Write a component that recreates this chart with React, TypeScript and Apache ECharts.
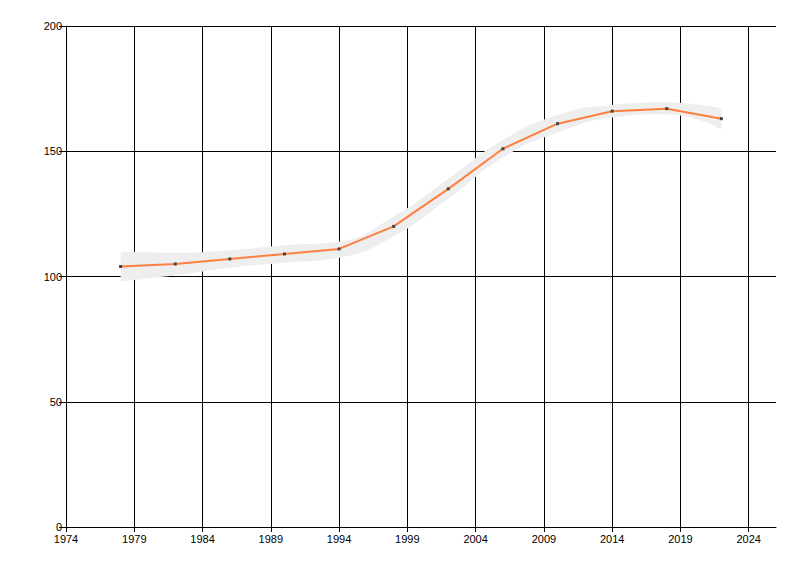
import { useEffect, useRef } from 'react';
import * as echarts from 'echarts';

// years of the observations
const years = [1978, 1982, 1986, 1990, 1994, 1998, 2002, 2006, 2010, 2014, 2018, 2022];
// observed values
const values = [104, 105, 107, 109, 111, 120, 135, 151, 161, 166, 167, 163];
// confidence band around the line
const bandUpper = [110, 109.5, 110.5, 112.5, 114, 124, 139, 154.5, 164.5, 168.5, 169.5, 167.2];
const bandLower = [98, 100.5, 103.5, 105.5, 107.5, 116, 131, 147.5, 157.5, 163.5, 164.8, 158.8];

// axis ticks
const xTicks = [1974, 1979, 1984, 1989, 1994, 1999, 2004, 2009, 2014, 2019, 2024];
const yTicks = [0, 50, 100, 150, 200];

const FONT = 'Liberation Sans, DejaVu Sans, sans-serif';

export default function App() {
  const chartRef = useRef<HTMLDivElement>(null);

  useEffect(() => {
    if (!chartRef.current) return;
    document.body.style.margin = '0';
    const chart = echarts.init(chartRef.current, null, { renderer: 'svg' });

    // band series keep the value first so that the stack runs along y
    const option = {
      animation: false,
      backgroundColor: '#ffffff',
      grid: { left: 66, right: 24, top: 26, bottom: 49 },
      xAxis: {
        type: 'value',
        min: 1974,
        max: 2026,
        axisLine: { show: true, lineStyle: { color: '#000', width: 1 } },
        axisTick: { show: true, length: 5, customValues: xTicks, lineStyle: { color: '#000' } },
        axisLabel: {
          customValues: xTicks,
          margin: 6,
          color: '#000',
          fontSize: 11,
          fontFamily: FONT,
          formatter: (v: number) => String(v)
        },
        splitLine: { show: true, lineStyle: { color: '#000', width: 1 } }
      },
      yAxis: {
        type: 'value',
        min: yTicks[0],
        max: yTicks[yTicks.length - 1],
        interval: yTicks[1] - yTicks[0],
        axisLine: { show: true, lineStyle: { color: '#000', width: 1 } },
        axisTick: { show: true, length: 7, lineStyle: { color: '#000' } },
        axisLabel: { margin: 4, color: '#000', fontSize: 11, fontFamily: FONT },
        splitLine: { show: true, lineStyle: { color: '#000', width: 1 } }
      },
      series: [
        {
          name: 'lower',
          type: 'line',
          stack: 'band',
          smooth: true,
          symbol: 'none',
          encode: { x: 1, y: 0 },
          lineStyle: { opacity: 0 },
          data: years.map((y, i) => [bandLower[i], y])
        },
        {
          name: 'band',
          type: 'line',
          stack: 'band',
          smooth: true,
          symbol: 'none',
          encode: { x: 1, y: 0 },
          lineStyle: { opacity: 0 },
          areaStyle: { color: '#eeeeee', opacity: 1 },
          data: years.map((y, i) => [bandUpper[i] - bandLower[i], y])
        },
        {
          name: 'value',
          type: 'line',
          symbol: 'rect',
          symbolSize: 3,
          itemStyle: { color: '#444444' },
          lineStyle: { color: '#ff7f40', width: 2 },
          z: 5,
          data: years.map((y, i) => [y, values[i]])
        }
      ]
    };

    chart.setOption(option);
    return () => chart.dispose();
  }, []);

  return (
    <div
      ref={chartRef}
      style={{ position: 'absolute', left: 0, top: 0, width: 800, height: 576 }}
    />
  );
}
